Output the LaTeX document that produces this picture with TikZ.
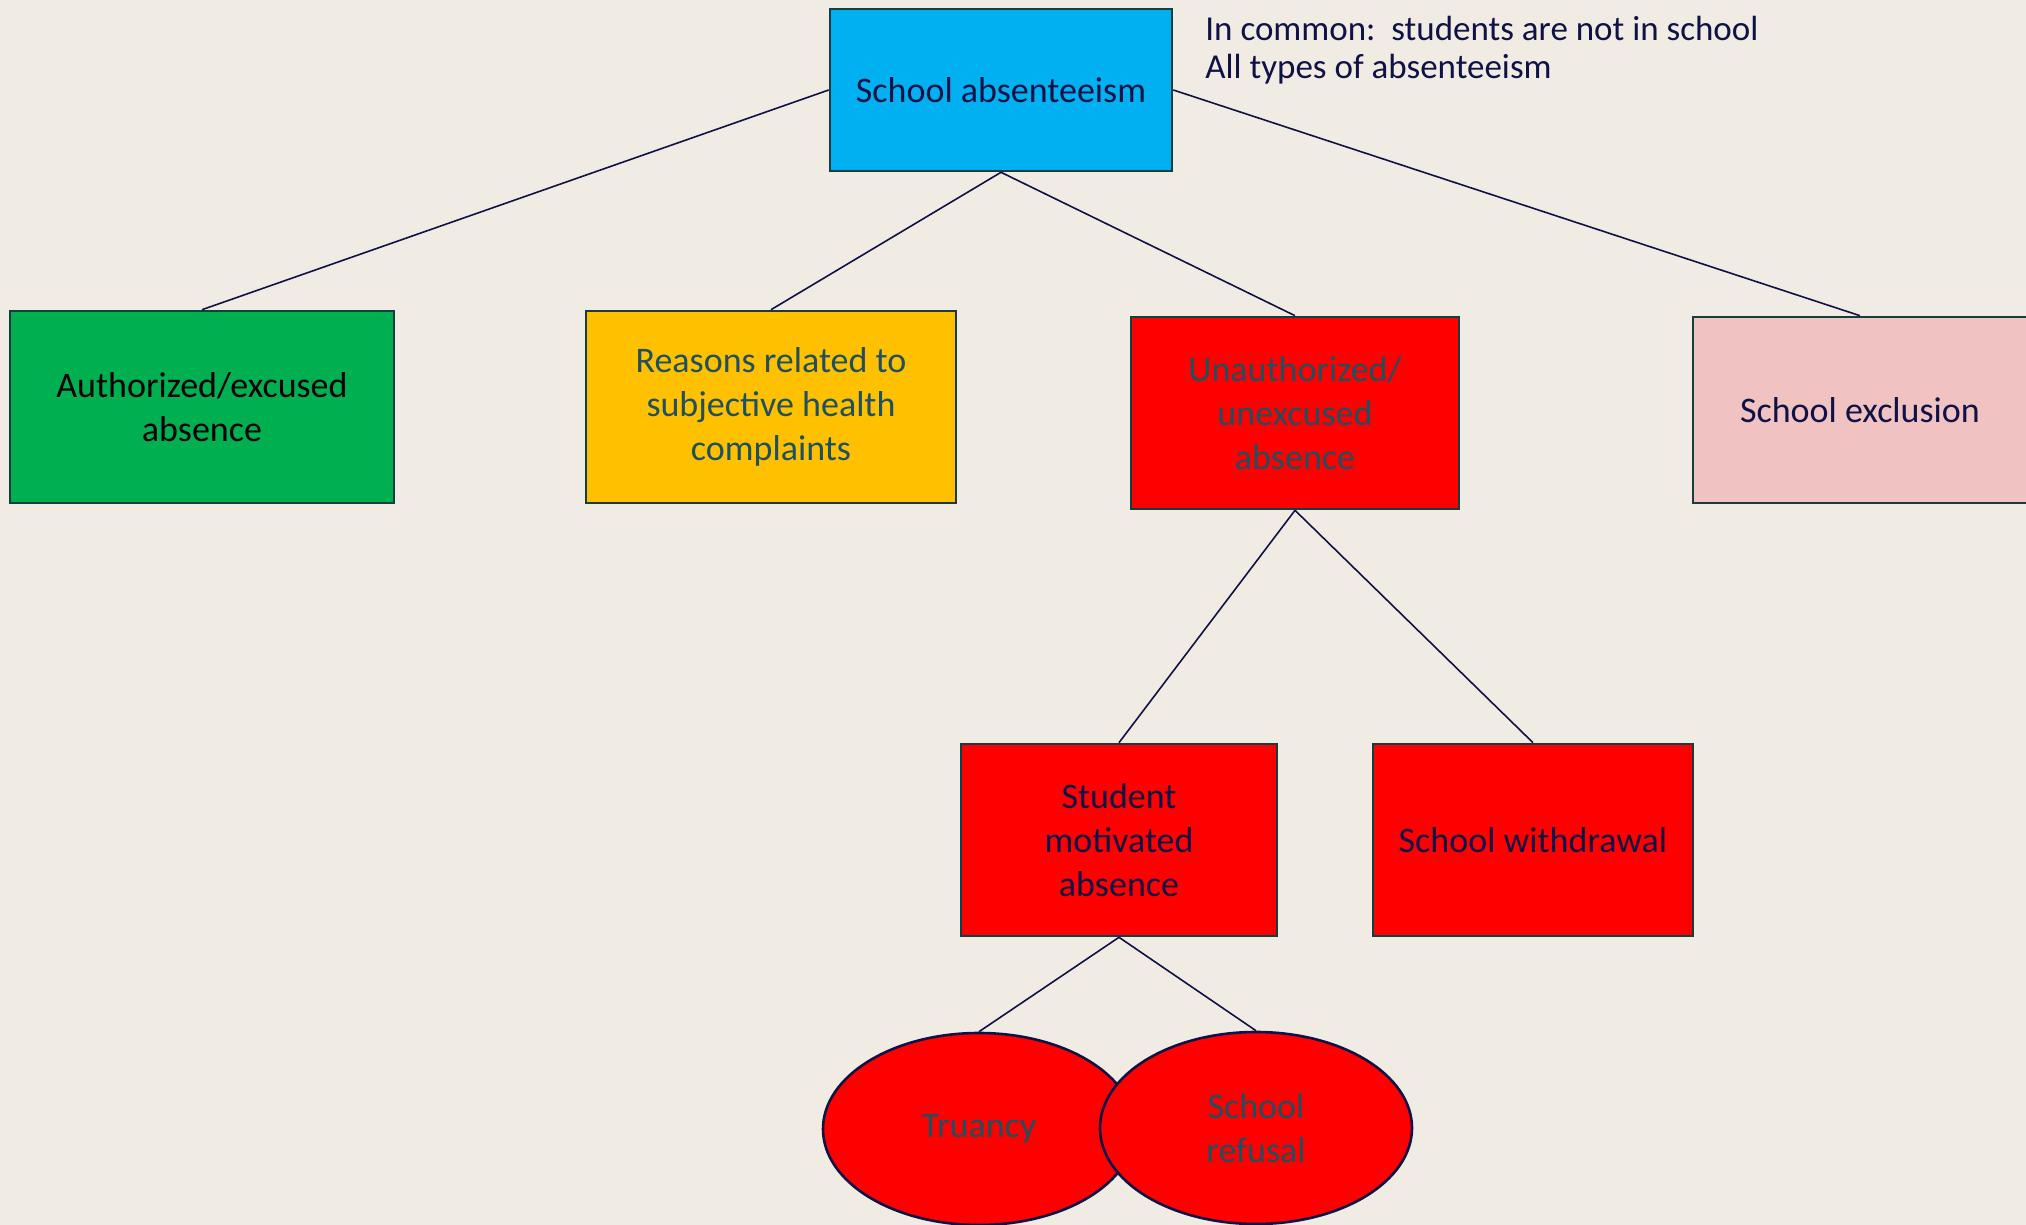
\documentclass[tikz,border=0pt]{standalone}
\usepackage{xcolor}
\usepackage{fontspec}
\setmainfont{Carlito}
\usepackage{tikz}
\usetikzlibrary{shapes.geometric, positioning}
\definecolor{mybg}{RGB}{240,236,228}
\definecolor{myblue}{RGB}{0,176,240}
\definecolor{mygreen}{RGB}{0,176,80}
\definecolor{myyellow}{RGB}{255,192,0}
\definecolor{myred}{RGB}{255,0,0}
\definecolor{mypink}{RGB}{240,194,194}
\definecolor{myborder}{RGB}{20,62,64}
\definecolor{mynavy}{RGB}{16,18,70}
\definecolor{myteal}{RGB}{30,80,95}
\tikzset{
  box/.style={rectangle, draw=myborder, line width=1.3pt,
    align=center, inner sep=0pt, font=\fontsize{18}{22}\selectfont},
  oval/.style={ellipse, draw=mynavy, fill=myred, line width=1.3pt,
    align=center, inner sep=0pt, minimum width=156pt, minimum height=96pt,
    font=\fontsize{18}{22}\selectfont, text=myteal},
  line/.style={line width=0.8pt, color=mynavy}
}
\begin{document}
\begin{tikzpicture}[x=0.5pt, y=-0.5pt]
  % Background and page size
  \fill[mybg] (0,0) rectangle (2026,1225);
  \useasboundingbox (0,0) rectangle (2026,1225);

  % Top level
  \node[box, fill=myblue, text=mynavy, minimum width=171pt, minimum height=81pt]
    (root) at (1001,90) {School absenteeism};
  \node[anchor=north west, align=left, text=mynavy, inner sep=0pt,
    font=\fontsize{17.5}{19}\selectfont] (common) at (1205,16)
    {In common:\ \ students are not in school\\All types of absenteeism};

  % Second level
  \node[box, fill=mygreen, text=black, minimum width=192pt, minimum height=96pt]
    (authorized) at (202,407) {Authorized/excused\\absence};
  \node[box, fill=myyellow, text=myteal, minimum width=185pt, minimum height=96pt]
    (reasons) at (771,407) {Reasons related to\\subjective health\\complaints};
  \node[box, fill=myred, text=myteal, minimum width=164pt, minimum height=96pt]
    (unauth) at (1295,413) {Unauthorized/\\unexcused\\absence};
  \node[box, fill=mypink, text=mynavy, minimum width=167pt, minimum height=93pt]
    (exclusion) at (1860,410) {School exclusion};

  % Third level
  \node[box, fill=myred, text=mynavy, minimum width=158pt, minimum height=96pt]
    (student) at (1119,840) {Student\\motivated\\absence};
  \node[box, fill=myred, text=mynavy, minimum width=160pt, minimum height=96pt]
    (withdrawal) at (1533,840) {School withdrawal};

  % Ovals
  \node[oval] (truancy) at (979,1129) {Truancy};
  \node[oval] (refusal) at (1256,1128) {School\\refusal};

  % Connectors
  \draw[line] (root.west) -- (authorized.north);
  \draw[line] (root.south) -- (reasons.north);
  \draw[line] (root.south) -- (unauth.north);
  \draw[line] (root.east) -- (exclusion.north);
  \draw[line] (unauth.south) -- (student.north);
  \draw[line] (unauth.south) -- (withdrawal.north);
  \draw[line] (student.south) -- (truancy.north);
  \draw[line] (student.south) -- (refusal.north);
\end{tikzpicture}
\end{document}
